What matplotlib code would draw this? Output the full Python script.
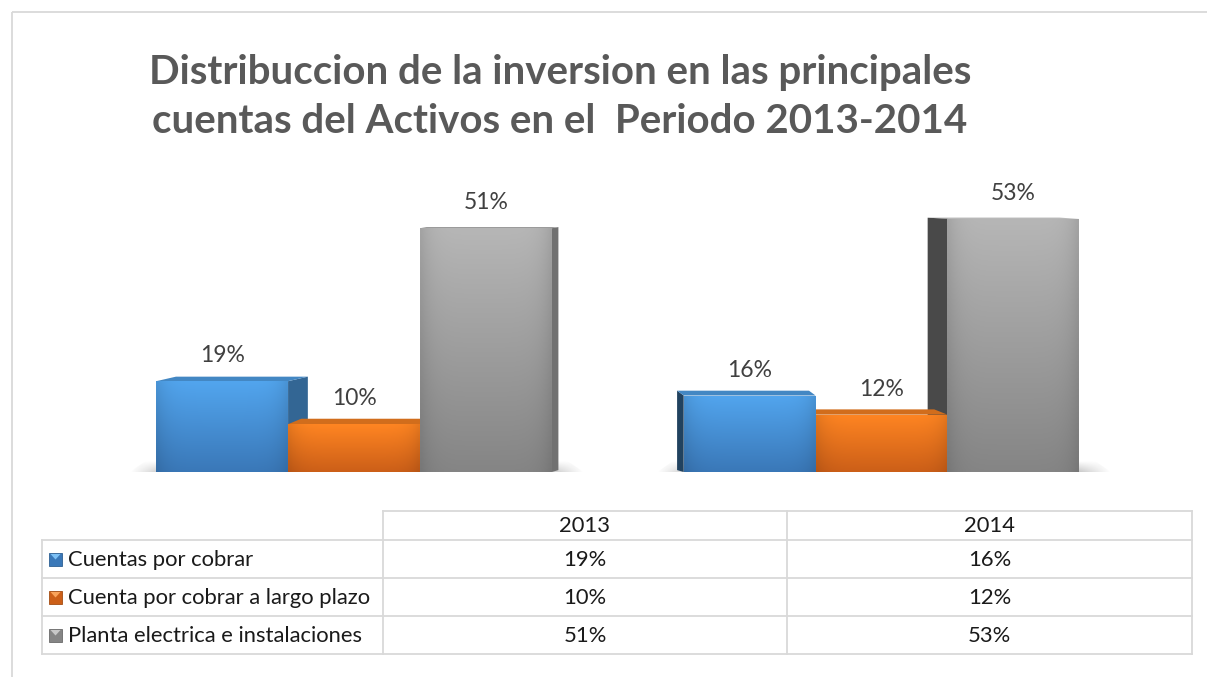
import numpy as np
import matplotlib
matplotlib.use("Agg")
import matplotlib.pyplot as plt
from matplotlib.patches import Polygon, Rectangle
import matplotlib.colors as mcolors

# ---------------- data ----------------
years = ["2013", "2014"]
series_names = ["Cuentas por cobrar",
                "Cuenta por cobrar a largo plazo",
                "Planta electrica e instalaciones"]
cuentas_por_cobrar = [19, 16]
cuenta_largo_plazo = [10, 12]
planta_electrica = [51, 53]
values = [cuentas_por_cobrar, cuenta_largo_plazo, planta_electrica]
title_lines = ["Distribuccion de la inversion en las principales",
               "cuentas del Activos en el  Periodo 2013-2014"]

# ---------------- style ----------------
front_top = ["#52A5EE", "#FF8522", "#B6B6B6"]
front_bot = ["#3A78B8", "#CC5F18", "#858585"]
key_light = ["#7CC0F5", "#F9A35A", "#C8C8C8"]

plt.rcParams['font.family'] = ['Lato', 'DejaVu Sans']

W, H = 1207, 677
fig = plt.figure(figsize=(W / 100, H / 100), dpi=100)

bg = fig.add_axes([0, 0, 1, 1])
bg.set_xlim(0, W)
bg.set_ylim(H, 0)
bg.axis('off')

grid_col = "#D9D9D9"
# outer chart frame (runs off right/bottom)
bg.plot([12, 12], [H + 5, 12], color=grid_col, lw=1.3, solid_capstyle='butt')
bg.plot([12, W + 5], [12, 12], color=grid_col, lw=1.3, solid_capstyle='butt')

# ---------------- title ----------------
t1 = bg.text(560, 84, title_lines[0], ha='center', va='baseline', fontsize=30,
             fontweight='bold', color='#595959')
t2 = bg.text(560, 133, title_lines[1], ha='center', va='baseline', fontsize=30,
             fontweight='bold', color='#595959')
fig.canvas.draw()
r = fig.canvas.get_renderer()
wpx = t1.get_window_extent(r).width
fs = 30 * 822 / wpx
t1.set_fontsize(fs)
t2.set_fontsize(fs)

# ---------------- bars ----------------
px_per_unit = 527.5
center0 = 354.0
baseline_px = 472.0
px_per_pct = 4.78
top_px = 150.0

ax = fig.add_axes([0, (H - baseline_px) / H, 1, (baseline_px - top_px) / H])
ax.axis('off')

width = 0.25
offsets = [-0.25, 0.0, 0.25]
x = np.arange(len(years))
vp = 0.5          # perspective vanishing point (data x)
persp = 0.05
eye = 62.0
top_k = 0.022


def shade(c, f):
    rgb = np.array(mcolors.to_rgb(c))
    return tuple(np.clip(rgb * f, 0, 1))


# floor shadows
for g in x:
    left = g - 1.5 * width - 0.05
    right = g + 1.5 * width + 0.06
    poly = Polygon([(left, 0), (right, 0), (right - 0.03, 2.3), (left + 0.03, 2.3)],
                   closed=True, facecolor='none', edgecolor='none', zorder=0.5)
    ax.add_patch(poly)
    nx, ny = 200, 30
    xs = np.linspace(0, 1, nx)
    ys = np.linspace(0, 1, ny)
    hx = np.clip(np.minimum(xs / 0.12, (1 - xs) / 0.12), 0, 1)
    vy = 1 - ys
    alpha = 0.75 * np.outer(vy, hx)
    img = np.zeros((ny, nx, 4))
    img[..., :3] = 0.5
    img[..., 3] = alpha
    im = ax.imshow(img, extent=[left, right, 0, 2.3], origin='lower',
                   aspect='auto', zorder=0.5, interpolation='bilinear')
    im.set_clip_path(poly)

for i, (name, vals) in enumerate(zip(series_names, values)):
    bars = ax.bar(x + offsets[i], vals, width, color='none', edgecolor='none',
                  zorder=3, label=name)
    for b in bars:
        x0 = b.get_x()
        x1 = x0 + b.get_width()
        v = b.get_height()
        xc = x0 + width / 2
        s = persp * (vp - xc)
        dy = top_k * (eye - v)
        mid = mcolors.to_rgb(front_top[i])
        if s > 0:
            xe = x1
            side_col = shade(mid, 0.62)
        else:
            xe = x0
            side_col = shade(mid, 0.40)
        side = Polygon([(xe, 0), (xe + s, 0.4), (xe + s, v + dy), (xe, v)],
                       closed=True, facecolor=side_col, edgecolor='none', zorder=1)
        ax.add_patch(side)
        top = Polygon([(x0, v), (x1, v), (x1 + s, v + dy), (x0 + s, v + dy)],
                      closed=True, facecolor=shade(mid, 0.82), edgecolor='none',
                      zorder=1.5)
        ax.add_patch(top)
        # front gradient
        c_top = np.array(mcolors.to_rgb(front_top[i]))
        c_bot = np.array(mcolors.to_rgb(front_bot[i]))
        tt = np.linspace(0, 1, 64)[:, None]
        grad = c_bot * (1 - tt) + c_top * tt
        hx = np.linspace(-1, 1, 40)
        edge = 1 - 0.10 * np.abs(hx) ** 6
        img = grad[:, None, :] * edge[None, :, None]
        im = ax.imshow(np.clip(img, 0, 1), extent=[x0, x1, 0, v], origin='lower',
                       aspect='auto', zorder=3, interpolation='bilinear')
        im.set_clip_path(b)
        ax.annotate(f"{v}%", (xc, v), xytext=(0, 13.5), textcoords='offset points',
                    ha='center', va='baseline', fontsize=16.5, color='#404040',
                    zorder=5, annotation_clip=False)

ax.set_xlim(-center0 / px_per_unit, (W - center0) / px_per_unit)
ax.set_ylim(0, (baseline_px - top_px) / px_per_pct)

# ---------------- data table ----------------
cols = [42, 383, 787, 1192]
rows = [511, 540, 578, 616, 654]
lw = 1.3
# header row (only data columns)
bg.plot([cols[1], cols[-1]], [rows[0], rows[0]], color=grid_col, lw=lw)
for yy in rows[1:]:
    bg.plot([cols[0], cols[-1]], [yy, yy], color=grid_col, lw=lw)
bg.plot([cols[0], cols[0]], [rows[1], rows[-1]], color=grid_col, lw=lw)
for xx in cols[1:]:
    bg.plot([xx, xx], [rows[0], rows[-1]], color=grid_col, lw=lw)

tfs = 15.8
for j, yr in enumerate(years):
    bg.text((cols[j + 1] + cols[j + 2]) / 2, (rows[0] + rows[1]) / 2 + 1, yr,
            ha='center', va='center', fontsize=tfs, color='#1a1a1a')
for i, (name, vals) in enumerate(zip(series_names, values)):
    yc = (rows[i + 1] + rows[i + 2]) / 2
    # legend key
    kx, ks = 49, 13
    bg.add_patch(Rectangle((kx, yc - ks / 2), ks, ks, facecolor=front_bot[i],
                           edgecolor=shade(front_bot[i], 0.8), lw=0.6, zorder=3))
    bg.add_patch(Polygon([(kx + 1.5, yc - ks / 2 + 1.5), (kx + ks - 1.5, yc - ks / 2 + 1.5),
                          (kx + ks / 2, yc + 0.5)], closed=True,
                         facecolor=key_light[i], edgecolor='none', zorder=4))
    bg.text(68, yc + 1, name, ha='left', va='center', fontsize=tfs, color='#1a1a1a')
    for j, v in enumerate(vals):
        bg.text((cols[j + 1] + cols[j + 2]) / 2, yc + 1, f"{v}%", ha='center',
                va='center', fontsize=tfs, color='#1a1a1a')

fig.savefig('out.png', dpi=100)
